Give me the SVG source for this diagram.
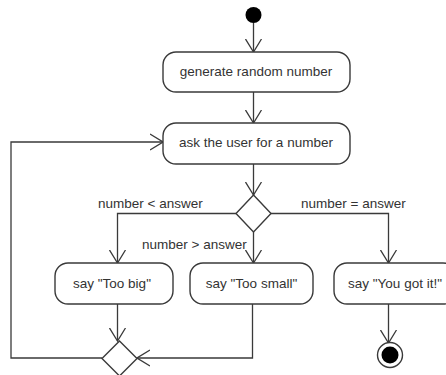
<svg xmlns="http://www.w3.org/2000/svg" width="446" height="375" viewBox="0 0 446 375">
<defs>
<marker id="arr" viewBox="0 0 14 18" refX="13" refY="9" markerWidth="14" markerHeight="18" markerUnits="userSpaceOnUse" orient="auto">
<path d="M0,1 L13,9 L0,17" fill="none" stroke="#3a3a3a" stroke-width="1.3"/>
</marker>
</defs>
<style>
.node{fill:#fff;stroke:#3a3a3a;stroke-width:1.4}
.t{font-family:"Liberation Sans",Arial,sans-serif;font-size:13.5px;fill:#333;text-anchor:middle}
.lbl{font-family:"Liberation Sans",Arial,sans-serif;font-size:13.5px;fill:#333}
.c{fill:none;stroke:#3a3a3a;stroke-width:1.3;marker-end:url(#arr)}
</style>
<rect width="446" height="375" fill="#fff"/>
<g id="connectors">
<path class="c" d="M253.5,23 V52"/>
<path class="c" d="M253.5,92 V123"/>
<path class="c" d="M253.5,164 V195"/>
<path class="c" d="M236,213.5 H117.5 V263"/>
<path class="c" d="M253.5,232 V263"/>
<path class="c" d="M271,213.5 H388.5 V263"/>
<path class="c" d="M117.5,304 V341"/>
<path class="c" d="M252.5,304 V358 H137"/>
<path class="c" d="M102,358 H11 V142 H163"/>
<path class="c" d="M388.5,304 V343"/>
<text class="lbl" x="98" y="208">number &lt; answer</text>
<text class="lbl" x="142" y="249">number &gt; answer</text>
<text class="lbl" x="301" y="208">number = answer</text>
</g>
<g id="start"><circle cx="253.5" cy="15" r="8" fill="#000"/></g>
<g id="generate"><rect class="node" x="163" y="52" width="187" height="40" rx="13"/><text class="t" x="256" y="76">generate random number</text></g>
<g id="ask"><rect class="node" x="163" y="123" width="187" height="41" rx="13"/><text class="t" x="256" y="147">ask the user for a number</text></g>
<g id="decision"><path class="node" d="M253.5,195 L271,213.5 L253.5,232 L236,213.5 Z"/></g>
<g id="toobig"><rect class="node" x="55" y="263" width="118" height="41" rx="13"/><text class="t" x="112" y="288">say "Too big"</text></g>
<g id="toosmall"><rect class="node" x="190" y="263" width="123" height="41" rx="13"/><text class="t" x="251.5" y="288">say "Too small"</text></g>
<g id="gotit"><rect class="node" x="334" y="263" width="122" height="41" rx="13"/><text class="t" x="395" y="288">say "You got it!"</text></g>
<g id="merge"><path class="node" d="M119.5,341 L137,358.5 L119.5,376 L102,358.5 Z"/></g>
<g id="end"><circle cx="390" cy="355" r="12.5" fill="#fff" stroke="#3a3a3a" stroke-width="1.4"/><circle cx="390" cy="355" r="8.5" fill="#000"/></g>
</svg>
